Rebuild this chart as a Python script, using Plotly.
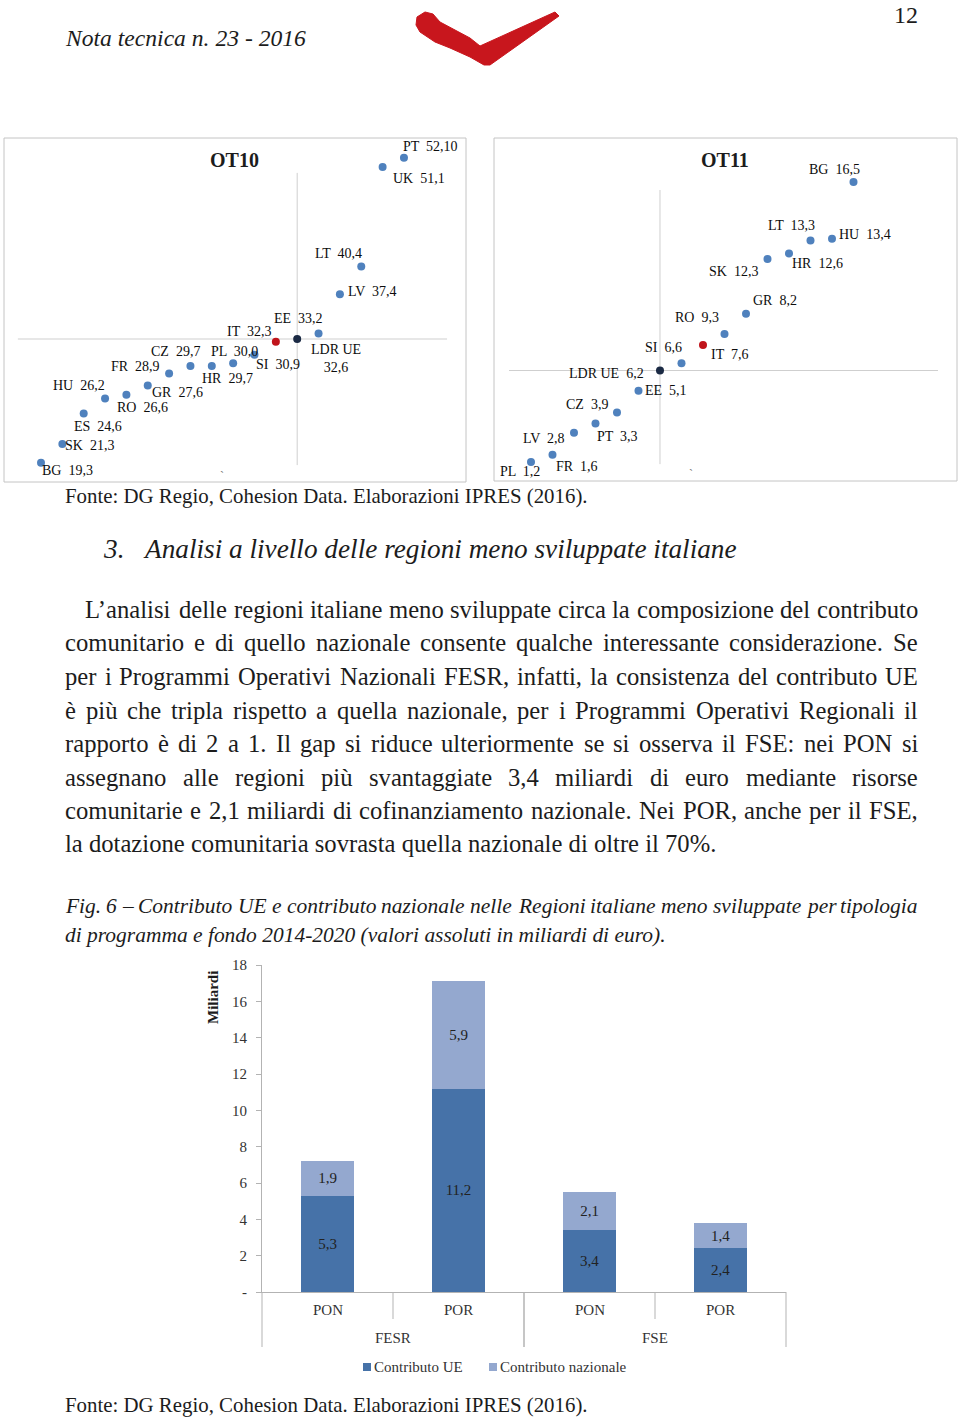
import plotly.graph_objects as go

W, H = 960, 1420
SERIF = "Liberation Serif"
INK = "#1c1c1c"


def fx(x):
    return x / W


def fy(y):
    return 1 - y / H


# ---------------- data ----------------
ot10_countries = ["BG", "SK", "ES", "HU", "RO", "GR", "FR", "CZ", "HR", "PL", "SI",
                  "IT", "LDR UE", "EE", "LV", "LT", "UK", "PT"]
ot10_values = [19.3, 21.3, 24.6, 26.2, 26.6, 27.6, 28.9, 29.7, 29.7, 30.0, 30.9,
               32.3, 32.6, 33.2, 37.4, 40.4, 51.1, 52.1]
ot10_value_labels = ["19,3", "21,3", "24,6", "26,2", "26,6", "27,6", "28,9", "29,7", "29,7",
                     "30,0", "30,9", "32,3", "32,6", "33,2", "37,4", "40,4", "51,1", "52,10"]

ot11_countries = ["PL", "FR", "LV", "PT", "CZ", "EE", "LDR UE", "SI", "IT", "GR", "RO",
                  "SK", "HR", "LT", "HU", "BG"]
ot11_values = [1.2, 1.6, 2.8, 3.3, 3.9, 5.1, 6.2, 6.6, 7.6, 8.2, 9.3,
               12.3, 12.6, 13.3, 13.4, 16.5]
ot11_value_labels = ["1,2", "1,6", "2,8", "3,3", "3,9", "5,1", "6,2", "6,6", "7,6", "8,2", "9,3",
                     "12,3", "12,6", "13,3", "13,4", "16,5"]

fig6_fund = ["FESR", "FESR", "FSE", "FSE"]
fig6_programme = ["PON", "POR", "PON", "POR"]
fig6_series = ["Contributo UE", "Contributo nazionale"]
fig6_ue = [5.3, 11.2, 3.4, 2.4]
fig6_naz = [1.9, 5.9, 2.1, 1.4]
fig6_yticks = [0, 2, 4, 6, 8, 10, 12, 14, 16, 18]
fig6_yticklabels = ["-", "2", "4", "6", "8", "10", "12", "14", "16", "18"]

# ---------------- styles ----------------
C_BLUE = "#4f81bd"
C_IT = "#c0141b"
C_LDR = "#1b2a44"
C_UE = "#4672a8"
C_NAZ = "#94a8cf"
C_AXIS = "#b3b3b3"

# label offsets (dx, dy in px; dy positive = downwards) and anchor
ot10_offsets = [(1, 8, "left"), (3, 1, "left"), (-10, 13, "left"), (-52, -13, "left"),
                (-9, 13, "left"), (4, 7, "left"), (-58, -7, "left"), (-39, -14, "left"),
                (-10, 13, "left"), (-22, -12, "left"), (1, 10, "left"), (-49, -10, "left"),
                (39, 19, "center"), (-45, -15, "left"), (8, -3, "left"), (-46, -13, "left"),
                (10, 12, "left"), (-1, -11, "left")]
ot11_offsets = [(-31, 9), (4, 12), (-51, 6), (2, 13), (-51, -8), (7, 0), (-91, 3),
                (-36, -16), (8, 10), (29, -33), (-71, 4), (-59, 13), (3, 10),
                (-43, -15), (7, -4), (-45, -13)]

# ---------------- font metrics (Times) ----------------
TR = {' ': 250, '!': 333, '%': 833, '(': 333, ')': 333, ',': 250, '-': 333, '.': 250,
      ':': 278, ';': 278, '’': 333, "'": 180, '–': 500,
      'A': 722, 'B': 667, 'C': 667, 'D': 722, 'E': 611, 'F': 556, 'G': 722, 'H': 722,
      'I': 333, 'J': 389, 'K': 722, 'L': 611, 'M': 889, 'N': 722, 'O': 722, 'P': 556,
      'Q': 722, 'R': 667, 'S': 556, 'T': 611, 'U': 722, 'V': 722, 'W': 944, 'X': 722,
      'Y': 722, 'Z': 611,
      'a': 444, 'b': 500, 'c': 444, 'd': 500, 'e': 444, 'f': 333, 'g': 500, 'h': 500,
      'i': 278, 'j': 278, 'k': 500, 'l': 278, 'm': 778, 'n': 500, 'o': 500, 'p': 500,
      'q': 500, 'r': 333, 's': 389, 't': 278, 'u': 500, 'v': 500, 'w': 722, 'x': 500,
      'y': 500, 'z': 444, 'à': 444, 'è': 444, 'é': 444, 'ì': 278, 'ò': 500, 'ù': 500}
TI = {' ': 250, '%': 833, '(': 333, ')': 333, ',': 250, '-': 333, '.': 250, ':': 333,
      '–': 500,
      'A': 611, 'B': 611, 'C': 667, 'D': 722, 'E': 611, 'F': 611, 'G': 722, 'H': 722,
      'I': 333, 'J': 444, 'K': 667, 'L': 556, 'M': 833, 'N': 667, 'O': 722, 'P': 611,
      'Q': 722, 'R': 611, 'S': 500, 'T': 556, 'U': 722, 'V': 611, 'W': 833, 'X': 611,
      'Y': 556, 'Z': 556,
      'a': 500, 'b': 500, 'c': 444, 'd': 500, 'e': 444, 'f': 278, 'g': 500, 'h': 500,
      'i': 278, 'j': 278, 'k': 444, 'l': 278, 'm': 722, 'n': 500, 'o': 500, 'p': 500,
      'q': 500, 'r': 389, 's': 389, 't': 278, 'u': 500, 'v': 444, 'w': 667, 'x': 444,
      'y': 444, 'z': 389}


def em_width(s, italic=False):
    t = TI if italic else TR
    return sum(t.get(ch, 500) for ch in s) / 1000.0


anns = []


def text(s, x, y, size, italic=False, bold=False, xanchor="left", color=INK):
    t = s
    if bold:
        t = f"<b>{t}</b>"
    if italic:
        t = f"<i>{t}</i>"
    anns.append(dict(text=t, x=fx(x), y=fy(y), xref="paper", yref="paper",
                     xanchor=xanchor, yanchor="middle", showarrow=False,
                     font=dict(family=SERIF, size=size, color=color),
                     borderpad=0, borderwidth=0))


def justify(line, x0, x1, y, size, italic=False):
    words = line.split()
    widths = [em_width(w, italic) * size for w in words]
    gap = (x1 - x0 - sum(widths)) / (len(words) - 1)
    x = x0
    for w, wd in zip(words, widths):
        text(w, x, y, size, italic=italic)
        x += wd + gap


# ---------------- page header ----------------
hdr = "Nota tecnica n. 23 - 2016"
text(hdr, 65, 38, 240 / em_width(hdr, True), italic=True)
text("12", 918, 15, 24, xanchor="right")

shapes = []
logo_pts = [(417, 17), (425, 12), (433, 14), (440, 22), (455, 30), (470, 38), (480, 46),
            (555, 12), (559, 16), (490, 65), (484, 65), (470, 57), (450, 48), (435, 42),
            (420, 32), (416, 25)]
path = "M " + " L ".join(f"{fx(a):.5f},{fy(b):.5f}" for a, b in logo_pts) + " Z"
shapes.append(dict(type="path", path=path, xref="paper", yref="paper",
                   fillcolor="#c8161d", line=dict(color="#c8161d", width=1)))

# ---------------- scatter panels ----------------
fig = go.Figure()


def panel_colors(countries):
    return [C_IT if c == "IT" else (C_LDR if c == "LDR UE" else C_BLUE) for c in countries]


fig.add_trace(go.Scatter(x=list(range(len(ot10_values))), y=ot10_values, mode="markers",
                         marker=dict(size=8, color=panel_colors(ot10_countries)),
                         xaxis="x2", yaxis="y2", showlegend=False, hoverinfo="skip"))
fig.add_trace(go.Scatter(x=list(range(len(ot11_values))), y=ot11_values, mode="markers",
                         marker=dict(size=8, color=panel_colors(ot11_countries)),
                         xaxis="x3", yaxis="y3", showlegend=False, hoverinfo="skip"))

LBL = dict(family=SERIF, size=14, color="#0d0d0d")
for i, (c, v, lab) in enumerate(zip(ot10_countries, ot10_values, ot10_value_labels)):
    dx, dy, anc = ot10_offsets[i]
    t = f"{c}<br>{lab}" if c == "LDR UE" else f"{c}  {lab}"
    anns.append(dict(text=t, x=i, y=v, xref="x2", yref="y2", xanchor=anc, yanchor="middle",
                     xshift=dx, yshift=-dy, showarrow=False, font=LBL, align="center",
                     borderpad=0, borderwidth=0))
for i, (c, v, lab) in enumerate(zip(ot11_countries, ot11_values, ot11_value_labels)):
    dx, dy = ot11_offsets[i]
    anns.append(dict(text=f"{c}  {lab}", x=i, y=v, xref="x3", yref="y3", xanchor="left",
                     yanchor="middle", xshift=dx, yshift=-dy, showarrow=False, font=LBL,
                     borderpad=0, borderwidth=0))

text("OT10", 234, 160, 20, bold=True, xanchor="center")
text("OT11", 725, 160, 20, bold=True, xanchor="center")
text("ˏ", 222, 466, 12, color="#777", xanchor="center")
text("ˏ", 691, 464, 12, color="#777", xanchor="center")

# crosshairs through the EU average
i10 = ot10_countries.index("LDR UE")
i11 = ot11_countries.index("LDR UE")
CROSS = dict(color="#cfcfcf", width=1)
shapes += [
    dict(type="line", xref="x2 domain", yref="y2", x0=0.030, x1=0.959,
         y0=ot10_values[i10], y1=ot10_values[i10], line=CROSS, layer="below"),
    dict(type="line", xref="x2", yref="y2 domain", x0=i10, x1=i10, y0=0.049, y1=0.896,
         line=CROSS, layer="below"),
    dict(type="line", xref="x3 domain", yref="y3", x0=0.0345, x1=0.959,
         y0=ot11_values[i11], y1=ot11_values[i11], line=CROSS, layer="below"),
    dict(type="line", xref="x3", yref="y3 domain", x0=i11, x1=i11, y0=0.049, y1=0.846,
         line=CROSS, layer="below"),
]
# panel frames
shapes += [
    dict(type="rect", xref="paper", yref="paper", x0=fx(4), x1=fx(466), y0=fy(482), y1=fy(138),
         line=dict(color="#c4c4c4", width=1)),
    dict(type="rect", xref="paper", yref="paper", x0=fx(494), x1=fx(957), y0=fy(481), y1=fy(138),
         line=dict(color="#c4c4c4", width=1)),
]

fonte = "Fonte: DG Regio, Cohesion Data. Elaborazioni IPRES (2016)."
fsize = 523 / em_width(fonte)
text(fonte, 65, 496, fsize)

# ---------------- section heading ----------------
head = "Analisi a livello delle regioni meno sviluppate italiane"
hsize = 593 / em_width(head, True)
text("3.", 103, 549, hsize, italic=True)
text(head, 143, 549, hsize, italic=True)

# ---------------- paragraph ----------------
para = [
    "L’analisi delle regioni italiane meno sviluppate circa la composizione del contributo",
    "comunitario e di quello nazionale consente qualche interessante considerazione. Se",
    "per i Programmi Operativi Nazionali FESR, infatti, la consistenza del contributo UE",
    "è più che tripla rispetto a quella nazionale, per i Programmi Operativi Regionali il",
    "rapporto è di 2 a 1. Il gap si riduce ulteriormente se si osserva il FSE: nei PON si",
    "assegnano alle regioni più svantaggiate 3,4 miliardi di euro mediante risorse",
    "comunitarie e 2,1 miliardi di cofinanziamento nazionale. Nei POR, anche per il FSE,",
    "la dotazione comunitaria sovrasta quella nazionale di oltre il 70%.",
]
para_y = [609, 643, 676, 710, 743, 777, 810, 843]
psize = 652 / em_width(para[-1])
for k, (ln, yy) in enumerate(zip(para, para_y)):
    if k == len(para) - 1:
        text(ln, 65, yy, psize)
    else:
        justify(ln, 85 if k == 0 else 65, 918, yy, psize)

# ---------------- caption ----------------
cap1 = "Fig. 6 – Contributo UE e contributo nazionale nelle Regioni italiane meno sviluppate per tipologia"
cap2 = "di programma e fondo 2014-2020 (valori assoluti in miliardi di euro)."
csize = 603 / em_width(cap2, True)
justify(cap1, 65, 918, 906, csize, italic=True)
text(cap2, 65, 935, csize, italic=True)

# ---------------- bar chart ----------------
def fmt(v):
    return f"{v:.1f}".replace(".", ",")


BAR_TXT = dict(family=SERIF, size=15, color="#222222")
for vals, col, name in [(fig6_ue, C_UE, fig6_series[0]), (fig6_naz, C_NAZ, fig6_series[1])]:
    fig.add_trace(go.Bar(x=[fig6_fund, fig6_programme], y=vals, name=name,
                         marker=dict(color=col, line=dict(width=0)),
                         text=[fmt(v) for v in vals], textposition="inside",
                         insidetextanchor="middle", textangle=0, constraintext="none",
                         textfont=BAR_TXT, hoverinfo="skip", showlegend=False))

text("Miliardi", 213, 998, 15, bold=True, xanchor="center")
anns[-1]["textangle"] = -90

# category labels (two levels) and dividers, in the x-axis domain
AXC = "#333333"
ncat = len(fig6_programme)
for k, p in enumerate(fig6_programme):
    anns.append(dict(text=p, x=(k + 0.5) / ncat, y=fy(1310), xref="x domain", yref="paper",
                     xanchor="center", yanchor="middle", showarrow=False,
                     font=dict(family=SERIF, size=15, color=AXC)))
groups = []
for k, f in enumerate(fig6_fund):
    if groups and groups[-1][0] == f:
        groups[-1][2] = k
    else:
        groups.append([f, k, k])
for f, k0, k1 in groups:
    anns.append(dict(text=f, x=(k0 + k1 + 1) / 2 / ncat, y=fy(1338), xref="x domain",
                     yref="paper", xanchor="center", yanchor="middle", showarrow=False,
                     font=dict(family=SERIF, size=15, color=AXC)))
    for edge in (k0, k1 + 1):
        shapes.append(dict(type="line", xref="x domain", yref="paper", x0=edge / ncat,
                           x1=edge / ncat, y0=fy(1292), y1=fy(1347),
                           line=dict(color=C_AXIS, width=1)))
    for k in range(k0 + 1, k1 + 1):
        shapes.append(dict(type="line", xref="x domain", yref="paper", x0=k / ncat,
                           x1=k / ncat, y0=fy(1292), y1=fy(1319),
                           line=dict(color=C_AXIS, width=1)))

# manual legend
leg_x = [363, 489]
for name, col, lx in zip(fig6_series, [C_UE, C_NAZ], leg_x):
    shapes.append(dict(type="rect", xref="paper", yref="paper", x0=fx(lx), x1=fx(lx + 8),
                       y0=fy(1371), y1=fy(1363), fillcolor=col, line=dict(width=0)))
    text(name, lx + 11, 1367, 15, color="#333333")

text(fonte, 65, 1405, fsize)

AX_FONT = dict(family=SERIF, size=15, color=AXC)
fig.update_layout(
    width=W, height=H, margin=dict(l=0, r=0, t=0, b=0, autoexpand=False),
    paper_bgcolor="white", plot_bgcolor="rgba(0,0,0,0)",
    barmode="stack", bargap=0.6,
    showlegend=False,
    xaxis=dict(domain=[fx(262), fx(786)], type="multicategory", showline=True,
               linecolor=C_AXIS, linewidth=1, ticks="", showgrid=False, zeroline=False,
               showticklabels=False, showdividers=False, anchor="y"),
    yaxis=dict(domain=[fy(1292), fy(965)], range=[0, 18], tickvals=fig6_yticks,
               ticktext=fig6_yticklabels, showline=True, linecolor=C_AXIS, linewidth=1,
               ticks="outside", ticklen=5, tickcolor=C_AXIS, showgrid=False,
               zeroline=False, tickfont=AX_FONT, ticklabelstandoff=6, anchor="x"),
    xaxis2=dict(domain=[fx(4), fx(466)], range=[-1.733, 19.906], visible=False, anchor="y2"),
    yaxis2=dict(domain=[fy(482), fy(137)], range=[17.224, 54.32], visible=False, anchor="x2"),
    xaxis3=dict(domain=[fx(493), fx(957)], range=[-1.767, 19.814], visible=False, anchor="y3"),
    yaxis3=dict(domain=[fy(481), fy(137)], range=[0.162, 18.96], visible=False, anchor="x3"),
    annotations=anns,
    shapes=shapes,
    font=dict(family=SERIF, color=INK),
)

fig.write_html("out.html", config={"displayModeBar": False},
               post_script="document.body.style.margin='0px';document.body.style.padding='0px';")
